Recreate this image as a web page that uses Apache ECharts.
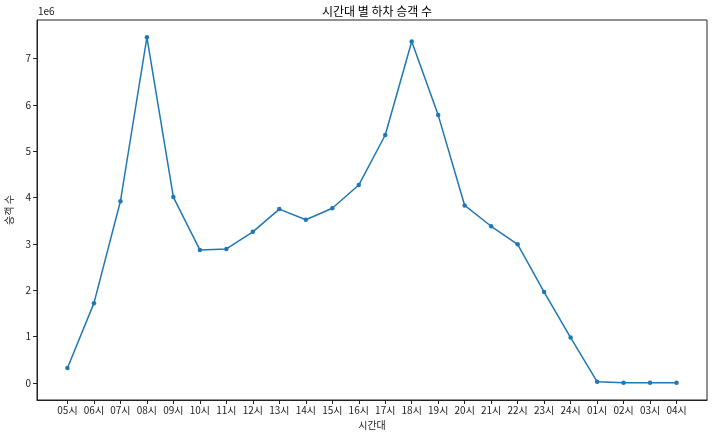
<!DOCTYPE html>
<html>
<head>
<meta charset="utf-8">
<script src="https://cdn.jsdelivr.net/npm/echarts@6/dist/echarts.min.js"></script>
<style>html,body{margin:0;padding:0;background:#fff}#c{width:717px;height:436px}</style>
</head>
<body>
<div id="c"></div>
<script>
const categories = ['05시','06시','07시','08시','09시','10시','11시','12시','13시','14시','15시','16시','17시','18시','19시','20시','21시','22시','23시','24시','01시','02시','03시','04시'];
const passengers = [320000,1720000,3920000,7460000,4010000,2870000,2890000,3260000,3750000,3520000,3770000,4270000,5350000,7370000,5780000,3830000,3380000,2990000,1960000,976000,25000,4000,3000,2000];
const yTicks = [0,1,2,3,4,5,6,7];
const titleText = '시간대 별 하차 승객 수';
const xName = '시간대';
const yName = '승객 수';
const font = '"Noto Sans CJK KR", "DejaVu Sans", sans-serif';

const chart = echarts.init(document.getElementById('c'), null, {renderer: 'canvas'});
const n = categories.length;
const xPad = (n - 1) * 0.05;
const yMaxData = Math.max(...passengers), yMinData = Math.min(...passengers);
const yPad = (yMaxData - yMinData) * 0.05;
chart.setOption({
  animation: false,
  backgroundColor: '#fff',
  title: {text: titleText, left: 372, top: 0, textAlign: 'center',
    textStyle: {fontFamily: font, fontSize: 12, fontWeight: 'normal', color: '#000'}},
  graphic: [{type: 'text', left: 38, top: 6, style: {text: '1e6', font: '10px ' + font, fill: '#222'}}],
  grid: {left: 37, right: 10, top: 20, bottom: 36, show: true, borderColor: '#222', borderWidth: 1,
    containLabel: false, outerBoundsMode: 'none'},
  xAxis: {
    type: 'value', min: -xPad, max: n - 1 + xPad,
    name: xName, nameLocation: 'middle', nameGap: 20,
    nameTextStyle: {fontFamily: font, fontSize: 10, color: '#222'},
    splitLine: {show: false},
    axisLine: {show: true, onZero: false, lineStyle: {color: '#222'}},
    axisTick: {show: true, length: 4, lineStyle: {color: '#222'}, customValues: categories.map((_, i) => i)},
    axisLabel: {fontFamily: font, fontSize: 10, color: '#222', margin: 5,
      customValues: categories.map((_, i) => i),
      formatter: v => categories[Math.round(v)] || ''}
  },
  yAxis: {
    type: 'value', min: yMinData - yPad, max: yMaxData + yPad,
    name: yName, nameLocation: 'middle', nameGap: 20, nameRotate: 90,
    nameTextStyle: {fontFamily: font, fontSize: 10, color: '#222'},
    splitLine: {show: false},
    axisLine: {show: true, onZero: false, lineStyle: {color: '#222'}},
    axisTick: {show: true, length: 4, lineStyle: {color: '#222'}, customValues: yTicks.map(t => t * 1e6)},
    axisLabel: {fontFamily: font, fontSize: 10, color: '#222', margin: 6,
      customValues: yTicks.map(t => t * 1e6),
      formatter: v => String(Math.round(v / 1e6))}
  },
  series: [{
    type: 'line',
    data: passengers.map((v, i) => [i, v]),
    symbol: 'circle', symbolSize: 4.5,
    lineStyle: {color: '#1f77b4', width: 1.5},
    itemStyle: {color: '#1f77b4'}
  }]
});
</script>
</body>
</html>
